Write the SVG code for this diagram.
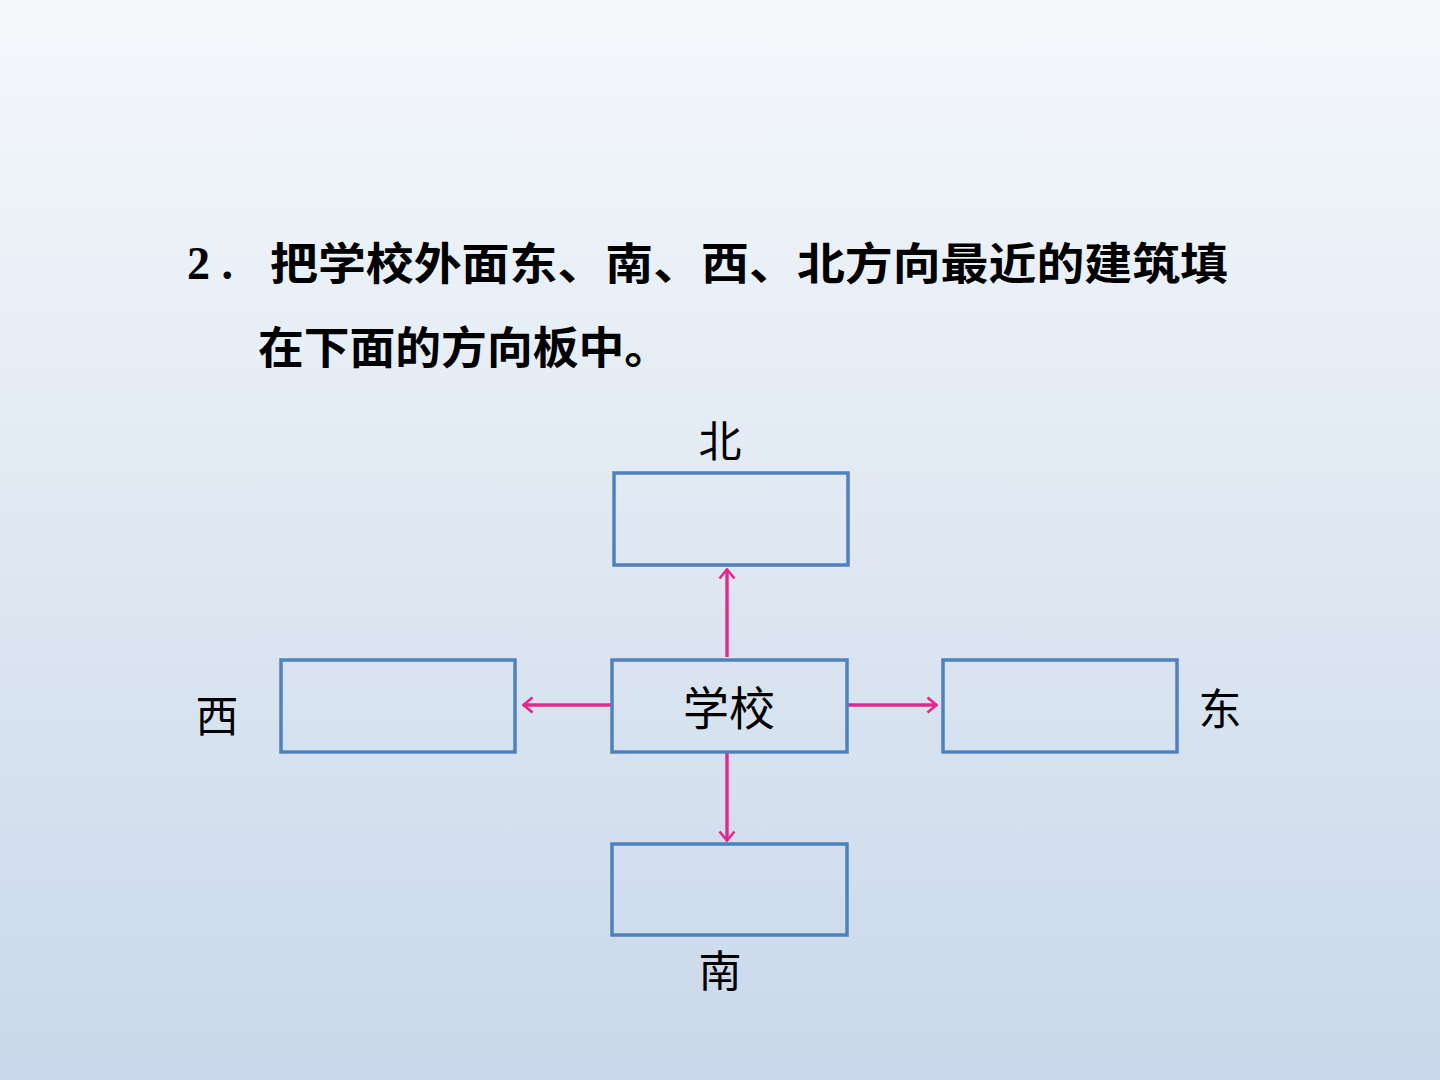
<svg xmlns="http://www.w3.org/2000/svg" width="1440" height="1080" viewBox="0 0 1440 1080">
<defs>
<linearGradient id="bg" x1="0" y1="0" x2="0" y2="1">
<stop offset="0" stop-color="#F5F8FB"/>
<stop offset="1" stop-color="#C9D8EA"/>
</linearGradient>
<marker id="ah" viewBox="0 0 12 18" refX="11" refY="9" markerWidth="12" markerHeight="18" markerUnits="userSpaceOnUse" orient="auto">
<path d="M1.5,1.5 L10.5,9 L1.5,16.5" fill="none" stroke="#E3288A" stroke-width="2.6"/>
</marker>
<style>
.box{fill:none;stroke:#4F81BD;stroke-width:3.5}
.con{stroke:#E3288A;stroke-width:3.4;fill:none}
.t{font-family:"Noto Sans CJK SC","Liberation Serif",serif;fill:#000}
.num{font-family:"Liberation Serif",serif;font-size:46px;font-weight:bold;fill:#000}
.title{font-size:44px;font-weight:bold}
.lbl{font-size:43px;text-anchor:middle}
</style>
</defs>
<rect width="1440" height="1080" fill="url(#bg)"/>
<g id="title">
<text class="num" x="187" y="279">2 .</text>
<text class="t title" x="270" y="280" textLength="958" lengthAdjust="spacingAndGlyphs">把学校外面东、南、西、北方向最近的建筑填</text>
<text class="t title" x="258" y="364" textLength="412" lengthAdjust="spacingAndGlyphs">在下面的方向板中。</text>
</g>
<g id="connectors">
<line class="con" x1="727" y1="657" x2="727" y2="569" marker-end="url(#ah)"/>
<line class="con" x1="727" y1="753" x2="727" y2="841" marker-end="url(#ah)"/>
<line class="con" x1="611" y1="705" x2="523" y2="705" marker-end="url(#ah)"/>
<line class="con" x1="848" y1="705" x2="937" y2="705" marker-end="url(#ah)"/>
</g>
<g id="north">
<rect class="box" x="614" y="473" width="234" height="92"/>
<text class="t lbl" x="720" y="457">北</text>
</g>
<g id="school">
<rect class="box" x="612" y="660" width="235" height="92"/>
<text class="t lbl" x="729" y="725" style="font-size:46px">学校</text>
</g>
<g id="west">
<rect class="box" x="281" y="660" width="234" height="92"/>
<text class="t lbl" x="217" y="732">西</text>
</g>
<g id="east">
<rect class="box" x="943" y="660" width="234" height="92"/>
<text class="t lbl" x="1220" y="725">东</text>
</g>
<g id="south">
<rect class="box" x="612" y="844" width="235" height="91"/>
<text class="t lbl" x="720" y="987">南</text>
</g>
</svg>
